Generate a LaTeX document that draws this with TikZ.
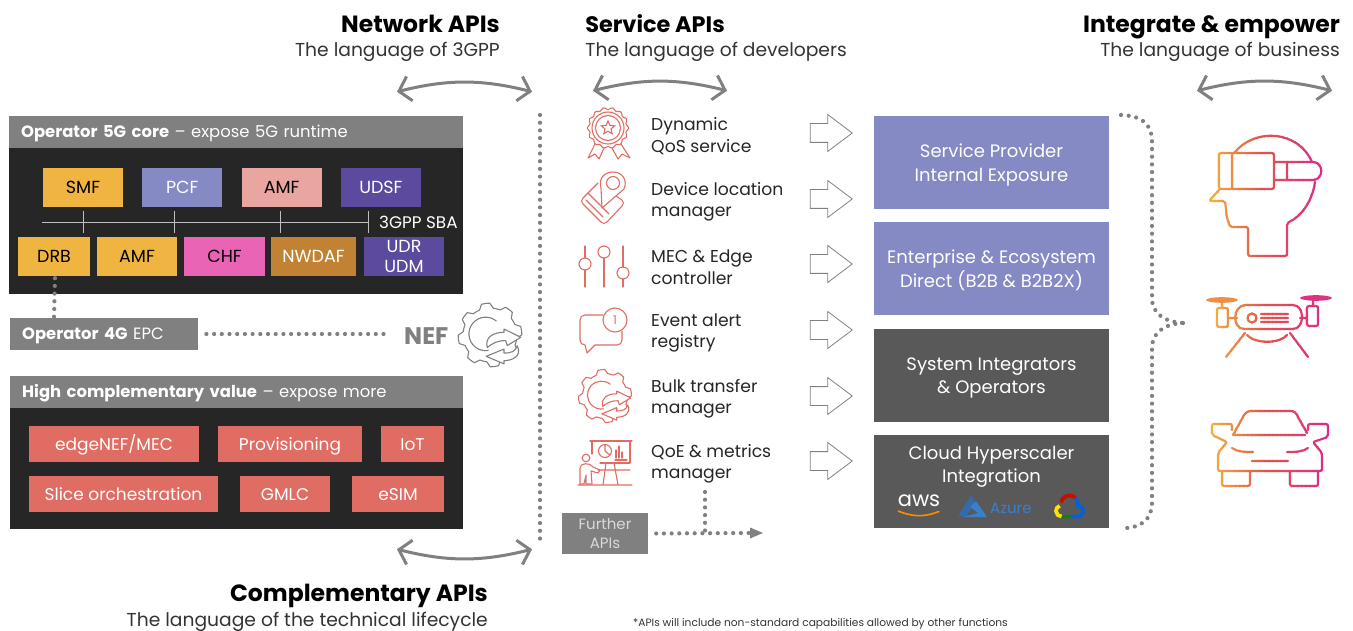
\documentclass[tikz,border=0pt]{standalone}
\usepackage{fontspec}
\setmainfont{Poppins}
\usetikzlibrary{arrows,arrows.meta,shapes.arrows,shapes.geometric}
\definecolor{headgray}{HTML}{808080}
\definecolor{panelblack}{HTML}{262626}
\definecolor{slategray}{HTML}{595959}
\definecolor{periwinkle}{HTML}{8589C4}
\definecolor{salmon}{HTML}{DF6D63}
\definecolor{gold}{HTML}{F0B440}
\definecolor{grape}{HTML}{5B4A9E}
\definecolor{blush}{HTML}{E9A5A0}
\definecolor{orchid}{HTML}{E964B4}
\definecolor{ochre}{HTML}{C28233}
\definecolor{azureblue}{HTML}{3A7FC9}
\definecolor{gradleft}{HTML}{F4B63F}
\definecolor{gradmid}{HTML}{E0524F}
\definecolor{gradright}{HTML}{DD2A8C}
\newcommand{\gradstroke}[3]{%
  \foreach \s in {0,...,29}{%
    \pgfmathtruncatemacro{\pct}{\s<15 ? \s*100/14 : (\s-15)*100/14}%
    \ifnum\s<15 \colorlet{stripcol}{gradmid!\pct!gradleft}\else \colorlet{stripcol}{gradright!\pct!gradmid}\fi
    \begin{scope}
      \clip ({#1+(#2-#1)*\s/30},0) rectangle ({#1+(#2-#1)*(\s+1.2)/30},631);
      \draw[iconline,stripcol] #3;
    \end{scope}
  }}
\newcommand{\bulkgear}[4]{%
  \begin{scope}[shift={(#1,#2)},scale=#3,yscale=-1,#4,line width=1.1pt,line join=round]
    \draw plot[samples at={0,...,48}] ({(1+0.18*(mod(\x+1,6)<3))*cos(\x*7.5+8)},{(1+0.18*(mod(\x+1,6)<3))*sin(\x*7.5+8)}) -- cycle;
    \draw (-.16,.04) ++(50:.62) arc (50:280:.62);
    \filldraw[fill=white] (-.1,-.46) .. controls (-.2,-.1) and (.1,.1) .. (.52,.1) -- (.52,.22) -- (1.14,-.085) -- (.64,-.39) -- (.58,-.21) .. controls (.3,-.2) and (.1,-.3) .. (-.1,-.46) -- cycle;
    \filldraw[fill=white] (-.14,-.79) -- (.52,-.52) -- (.52,-.67) .. controls (.8,-.67) and (.95,-.6) .. (1.01,-.4) .. controls (1.2,-.8) and (.8,-.95) .. (.52,-.95) -- (.52,-1.07) -- cycle;
  \end{scope}}
\begin{document}
\begin{tikzpicture}[x=1pt,y=-1pt,>=stealth',node distance=99.3pt,
    iconline/.style={line width=2.2pt,line cap=round,line join=round,rounded corners=2pt},
    redicon/.style={salmon,line width=1.1pt,line cap=round,line join=round},
    headbox/.style={fill=headgray,text=white,anchor=west,inner sep=0pt,text height=11.5pt,text depth=0pt,font=\fontsize{16.4}{18}\selectfont},
    fbox/.style={minimum height=39pt,inner sep=0pt,align=center,text height=12.2pt,text depth=0pt,font=\fontsize{17.5}{20}\selectfont},
    redbox/.style={fill=salmon,text=white,minimum height=36pt,inner sep=0pt,text height=12pt,text depth=0pt,font=\fontsize{17}{19}\selectfont},
    title/.style={anchor=base east,inner sep=0pt,font=\fontsize{23.5}{25}\selectfont\bfseries},
    subtitle/.style={anchor=base east,inner sep=0pt,font=\fontsize{18.7}{21}\selectfont,text=black!80},
    svc/.style={anchor=west,align=left,inner sep=0pt,yshift=-3pt,font=\fontsize{17.2}{21.5}\selectfont,text=black!85},
    blockarrow/.style={single arrow,draw=headgray,fill=white,line width=.8pt,text width=1pt,text height=9pt,text depth=9pt,minimum height=42pt,minimum width=36pt,single arrow head extend=9pt,single arrow tip angle=74,inner sep=0pt},
    bigbox/.style={minimum width=235pt,minimum height=93pt,inner sep=0pt,text=white,align=center,text depth=0pt,font=\fontsize{18}{23.5}\selectfont},
    twoway/.style={<->,headgray,line width=3pt,>={Straight Barb[length=11pt,width=25pt]},shorten <=1pt,shorten >=1pt},
    dots/.style={headgray,line width=4.2pt,line cap=round,dash pattern=on 0pt off 7.7pt}]
\useasboundingbox (0,0) rectangle (1353,631);

\node[title] (nettitle) at (500,33) {Network APIs};
\node[subtitle] (netsub) at (500,57) {The language of 3GPP};
\node[title,font=\fontsize{22.4}{25}\selectfont\bfseries] (svctitle) at (725,33) {Service APIs};
\node[subtitle] (svcsub) at (847,57) {The language of developers};
\node[title] (inttitle) at (1340,33) {Integrate \& empower};
\node[subtitle] (intsub) at (1340,57) {The language of business};
\node[title] (comptitle) at (488,601) {Complementary APIs};
\node[subtitle] (compsub) at (488,626) {The language of the technical lifecycle};
\node[anchor=base east,inner sep=0pt,font=\fontsize{10.65}{12}\selectfont,text=black!80] (footnote) at (1008,626) {*APIs will include non-standard capabilities allowed by other functions};

\coordinate (netl) at (396,92);
\coordinate (netr) at (533,92);
\coordinate (svcl) at (592,91);
\coordinate (svcr) at (728,91);
\coordinate (intl) at (1196,91);
\coordinate (intr) at (1333,91);
\coordinate (compl) at (396,549);
\coordinate (compr) at (533,549);
\draw[twoway] (netl) to[bend left=14] (netr);
\draw[twoway] (svcl) to[bend left=14] (svcr);
\draw[twoway] (intl) to[bend left=14] (intr);
\draw[twoway] (compl) to[bend right=14] (compr);

\fill[panelblack] (9,148) rectangle (463,294);
\node[headbox,minimum width=454pt,minimum height=32pt,text width=430pt,align=left] (core) at (9,132) {\textbf{Operator 5G core} -- expose 5G runtime};
\node[fbox,fill=gold,text=black,minimum width=80pt] (smf) at (83,187.5) {SMF};
\node[fbox,fill=periwinkle,text=white,minimum width=80pt] (pcf) [right of=smf] {PCF};
\node[fbox,fill=blush,text=black,minimum width=80pt] (amf) [right of=pcf] {AMF};
\node[fbox,fill=grape,text=white,minimum width=80pt] (udsf) [right of=amf] {UDSF};
\node[fbox,fill=gold,text=black,minimum width=72pt] (drb) at (54,256.5) {DRB};
\node[fbox,fill=gold,text=black,minimum width=80pt] (amfb) at (137,256.5) {AMF};
\node[fbox,fill=orchid,text=black,minimum width=81pt] (chf) at (224.5,256.5) {CHF};
\node[fbox,fill=ochre,text=white,minimum width=85pt] (nwdaf) at (313.5,256.5) {NWDAF};
\node[fbox,fill=grape,text=white,minimum width=80pt,text height=32.2pt] (udr) at (404,256.5) {UDR\\UDM};
\coordinate (busl) at (42,222);
\coordinate (busr) at (368,222);
\draw[white!75!black] (busl) -- (busr);
\foreach \tickx in {83,174,280,368}
  \draw[white!75!black] (\tickx,211) -- (\tickx,233);
\node[anchor=west,text=white,inner sep=0pt,font=\fontsize{16.8}{18}\selectfont] (sba) at (379,222) {3GPP SBA};

\node[headbox,minimum width=188pt,minimum height=32pt,text width=164pt,align=left] (epc) at (10,334) {\textbf{Operator 4G} EPC};
\node[anchor=west,inner sep=0pt,text=headgray,font=\fontsize{24}{26}\selectfont\bfseries] (nef) at (404,336) {NEF};
\coordinate (nefend) at (390,334);
\draw[dots] (drb.south) ++(1,2) -- (epc.north -| drb.south);
\draw[dots] (epc.east) ++(8,0) -- (nefend);
\bulkgear{490}{335}{27}{headgray}

\fill[panelblack] (10,408) rectangle (463,529);
\node[headbox,minimum width=453pt,minimum height=32pt,text width=429pt,align=left] (value) at (10,392) {\textbf{High complementary value} -- expose more};
\node[redbox,minimum width=170pt] (edgenef) at (114,444) {edgeNEF/MEC};
\node[redbox,minimum width=144pt] (prov) at (290,444) {Provisioning};
\node[redbox,minimum width=63pt] (iot) at (412.5,444) {IoT};
\node[redbox,minimum width=189pt] (slice) at (123.5,494) {Slice orchestration};
\node[redbox,minimum width=90pt] (gmlc) at (285,494) {GMLC};
\node[redbox,minimum width=92pt] (esim) at (398,494) {eSIM};

\coordinate (splittop) at (540,115);
\coordinate (splitbot) at (540,545);
\draw[dots] (splittop) -- (splitbot);

\foreach \rowname/\rowy/\rowtxt in {qos/133/{Dynamic\\QoS service},loc/199/{Device location\\manager},mec/264/{MEC \& Edge\\controller},evt/330/{Event alert\\registry},bulk/396/{Bulk transfer\\manager},qoe/461/{QoE \& metrics\\manager}}{
  \node[svc] (\rowname) at (651,\rowy) {\rowtxt};
  \node[blockarrow] (arr\rowname) at (825,\rowy) {};
}

\node[bigbox,fill=periwinkle] (spbox) at (991.5,162.5) {Service Provider\\Internal Exposure};
\node[bigbox,fill=periwinkle] (entbox) at (991.5,268.5) {Enterprise \& Ecosystem\\Direct (B2B \& B2B2X)};
\node[bigbox,fill=slategray] (sibox) at (991.5,375.5) {System Integrators\\\& Operators};
\node[bigbox,fill=slategray,text depth=34pt] (cloudbox) at (991.5,481.5) {Cloud Hyperscaler\\Integration};
\node[inner sep=0pt,text=white,font=\fontsize{21}{22}\selectfont] (aws) at (919,501) {aws};
\draw[orange!90!yellow,line width=1.6pt,-{Stealth[length=3pt]}] (898,511) to[bend right=22] (940,511);
\fill[azureblue!85!black] (971.5,495) -- (958,516) -- (966,516) -- (975,503) -- cycle;
\fill[azureblue] (976,501) -- (987,517) -- (963,517) -- (978,513) -- (970,507) -- cycle;
\node[anchor=west,inner sep=0pt,text=azureblue,font=\fontsize{15}{16}\selectfont] (azure) at (990,508) {Azure};
\begin{scope}[shift={(1069.5,507)},yscale=-1,line width=3.8pt]
\draw[red!75!black!90!orange] (-8.4,4.5) arc (170:45:8.5);
\draw[blue!55!cyan!85!black] (6,9) arc (45:-10:8.5) arc (90:-90:5.5) -- (1,-9.5);
\draw[green!55!black] (1,-9.5) -- (-8,-9.5);
\draw[yellow!85!orange] (-8,-9.5) arc (270:110:5.5);
\end{scope}

\node[fill=headgray,text=white!85!black,minimum width=86pt,minimum height=41pt,inner sep=0pt,align=center,text depth=0pt,font=\fontsize{15}{19.5}\selectfont] (further) at (605,533.5) {Further\\APIs};
\coordinate (qoedrop) at (705,492);
\coordinate (dropend) at (705,533);
\coordinate (furtherend) at (749,533);
\draw[dots] (qoedrop) -- (dropend);
\draw[dots] (further.east) ++(8,0) -- (furtherend);
\fill[headgray] (750,527.5) -- (763,533) -- (750,538.5) -- cycle;

\coordinate (brtop) at (1121,115);
\coordinate (brmid) at (1183,323);
\coordinate (brbot) at (1127,528);
\draw[dots] (brtop) .. controls (1140,116) and (1152,122) .. (1152,142) -- (1152,298) .. controls (1152,314) and (1165,322) .. (brmid);
\draw[dots] (brmid) .. controls (1165,324) and (1152,332) .. (1152,348) -- (1152,503) .. controls (1152,520) and (1140,527) .. (brbot);

% left column icons
\draw[redicon] plot[domain=0:360,samples=145,smooth] ({608+(19.5+1*cos(14*\x))*cos(\x)},{128+(19.5+1*cos(14*\x))*sin(\x)});
\draw[redicon] (608,128) circle (16) (608,128) circle (12.5);
\node[star,star points=5,star point ratio=2.2,draw=salmon,line width=1.1pt,minimum size=14pt,inner sep=0pt] (medalstar) at (608,128) {};
\draw[redicon] (595,144) -- (588,158) -- (595,154) -- (599,159) -- (604,148);
\draw[redicon] (621,144) -- (630,158) -- (622,154) -- (618,159) -- (612,148);

\draw[redicon] (598,183) -- (583,198) .. controls (581,200) and (581,202) .. (583,204) -- (601,222) .. controls (603,224) and (605,224) .. (607,222) -- (622,206) .. controls (624,204) and (624,202) .. (622,200) -- (616,196);
\draw[redicon] (588,193) -- (609,214) (586,200) -- (603,217);
\filldraw[redicon,fill=white] (602,208) -- (601,188) .. controls (598,178) and (605,172) .. (613,172) .. controls (622,172) and (628,180) .. (624,189) -- cycle;
\draw[redicon] (613,183) circle (6.5);

\foreach \sx/\ky in {585/264,604/252,623/273}{
  \draw[redicon] (\sx,246) -- (\sx,\ky-6) (\sx,\ky+6) -- (\sx,287);
  \draw[redicon] (\sx,\ky) circle (6);
}

\draw[redicon] (603,315) -- (585,315) .. controls (582,315) and (580,317) .. (580,320) -- (580,340) .. controls (580,343) and (582,345) .. (585,345) -- (587,353) -- (595,345) -- (617,345) .. controls (620,345) and (622,343) .. (622,340) -- (622,331);
\draw[redicon] (615,320) circle (12);
\node[inner sep=0pt,text=salmon,font=\fontsize{12}{13}\selectfont] (badge) at (615,320) {1};

\bulkgear{605}{396}{22.5}{salmon}

\draw[redicon] (590,441) -- (632,441) (592,441) -- (592,454) (630,441) -- (630,463) (600,463) -- (630,463);
\draw[redicon] (605,451) circle (6.5) (605,451) -- (605,445) (605,451) -- (610,455);
\draw[redicon] (616,458) -- (616,450) (619,458) -- (619,446) (622,458) -- (622,452) (615,460) -- (627,460);
\draw[redicon] (586,458) circle (3.8);
\draw[redicon] (580,484) -- (580,468) .. controls (580,463) and (590,462) .. (593,467) -- (600,470) -- (598,473) -- (591,471) -- (592,484) -- (586,484) -- (586,475) -- (584,484) -- cycle;
\draw[redicon] (578,485) -- (632,485) (598,470) -- (630,470) (606,463) -- (603,485) (614,463) -- (618,485);

% right column icons
\gradstroke{1206}{1322}{(1235,152) .. controls (1255,128) and (1298,130) .. (1312,162) (1315,182) .. controls (1312,203) and (1300,217) .. (1287,223) -- (1287,256) -- (1248,256) -- (1248,227) -- (1230,227) -- (1227,218) -- (1225,201) -- (1209,201) -- (1220,189)
  (1219,153) rectangle (1274,189) (1232,153) -- (1232,189)
  (1274,162) -- (1311,162) .. controls (1324,162) and (1324,180) .. (1311,180) -- (1274,180) (1287,162) -- (1287,180)}
\gradstroke{1206}{1330}{(1246,305) -- (1291,305) .. controls (1305,305) and (1305,329) .. (1291,329) -- (1246,329) .. controls (1232,329) and (1232,305) .. (1246,305)
  (1252,318) circle (4.5) (1261,314) -- (1288,314) (1261,318) -- (1288,318) (1261,322) -- (1288,322)
  (1217,308) rectangle (1228,327) (1307,306) rectangle (1318,326) (1228,318) -- (1237,318) (1300,318) -- (1307,318)
  (1222,300) -- (1222,308) (1313,298) -- (1313,306)
  (1245,333) -- (1226,357) (1290,333) -- (1308,357) (1247,335) .. controls (1255,344) and (1280,344) .. (1287,335)}
\gradstroke{1206}{1330}{(1233,435) -- (1305,435) (1233,435) -- (1243,417) .. controls (1245,413) and (1248,411) .. (1252,411) -- (1290,411) .. controls (1294,411) and (1296,413) .. (1298,417) -- (1307,433)
  (1232,430) -- (1232,424) -- (1212,424) -- (1212,435) -- (1227,442) -- (1218,453) -- (1218,471) -- (1322,471) -- (1322,453) -- (1313,442) -- (1328,437) -- (1328,424) -- (1308,424) -- (1308,430)
  (1222,472) -- (1222,486) -- (1250,486) -- (1250,472)
  (1290,472) -- (1290,486) -- (1318,486) -- (1318,472)
  (1232,448) .. controls (1237,452) and (1245,452) .. (1253,452) (1287,452) .. controls (1295,452) and (1303,452) .. (1308,448) (1252,461) -- (1288,461)}
\fill[gradleft!60!gradmid] (1222,300) ellipse (16 and 2.8);
\fill[gradright!80!gradmid] (1316,298) ellipse (16 and 2.8);
\end{tikzpicture}
\end{document}
